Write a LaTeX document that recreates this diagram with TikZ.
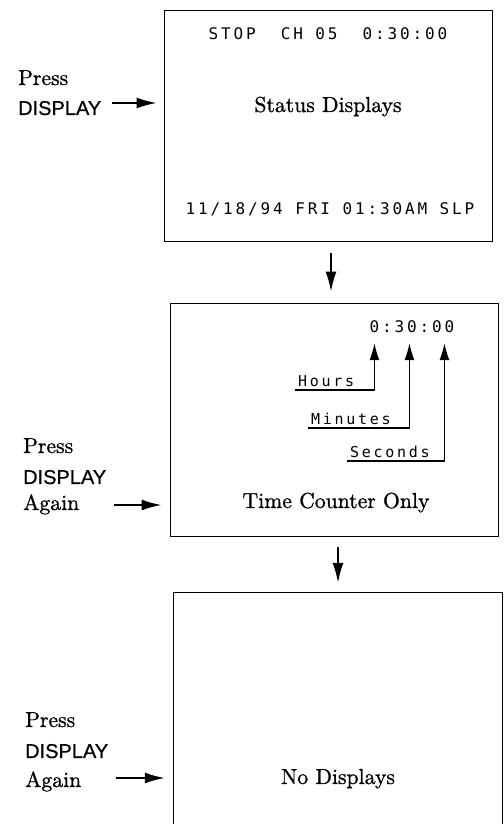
\documentclass[tikz,border=0pt]{standalone}
\usepackage{fontspec}
\setmainfont{lmroman10-regular.otf}[FakeBold=1]
\newfontfamily\lcdfont[LetterSpace=18]{DejaVu Sans Mono}
\newfontfamily\keyfont[FakeBold=0.6]{Liberation Sans}
\usetikzlibrary{arrows.meta}
\begin{document}
\begin{tikzpicture}[x=1pt,y=1pt,
  screen/.style={draw,line width=0.9pt,minimum width=328pt,inner sep=0pt},
  lcd/.style={font=\lcdfont\fontsize{16}{18}\selectfont,anchor=base,inner sep=0pt,text depth=0pt},
  caption/.style={font=\fontsize{21.7}{26}\selectfont,anchor=base,inner sep=0pt},
  press/.style={font=\fontsize{21.7}{26}\selectfont,anchor=base west,inner sep=0pt},
  key/.style={font=\keyfont\fontsize{20}{24}\selectfont,anchor=base west,inner sep=0pt},
  push/.style={line width=1.8pt,-{Latex[length=20pt,width=11pt]}},
  tag/.style={font=\lcdfont\fontsize{15}{16}\selectfont,anchor=south west,inner sep=3pt,text depth=0pt},
  pointer/.style={line width=1.3pt,-{Latex[length=17pt,width=10pt]}}]
 \useasboundingbox (0,0) rectangle (503,824);
 \node[screen,minimum height=231pt] (status) at (328,698.5) {};
 \node[screen,minimum height=233pt] (counter) at (334,404.5) {};
 \node[minimum width=328pt,minimum height=240pt,inner sep=0pt] (blank) at (338,111) {};
 \draw[line width=0.9pt] (blank.south west) -- (blank.north west) -- (blank.north east) -- (blank.south east);
 \node[lcd] (topline) at (328,784) {STOP\ \ CH 05\ \ 0:30:00};
 \node[caption] (statuscap) at (328,712) {Status Displays};
 \node[lcd] (bottomline) at (330,609) {11/18/94 FRI 01:30AM SLP};
 \node[lcd] (clock) at (412,491) {0:30:00};
 \node[tag] (hours) at (295,434) {Hours};
 \node[tag] (minutes) at (308,396) {Minutes};
 \node[tag] (seconds) at (347,363) {Seconds};
 \draw[pointer] (hours.south west) -| ([shift={(5,-10)}]clock.south west);
 \draw[pointer] (minutes.south west) -| ([shift={(40,-10)}]clock.south west);
 \draw[pointer] (seconds.south west) -| ([shift={(75,-10)}]clock.south west);
 \node[caption] (countercap) at (336,316) {Time Counter Only};
 \node[caption] (blankcap) at (338,40) {No Displays};
 \node[press] (press1) at (18,739) {Press};
 \node[key] (key1) at (18,709) {DISPLAY};
 \node[press] (press2) at (23,371) {Press};
 \node[key] (key2) at (23,340) {DISPLAY};
 \node[press] (again2) at (23,314) {Again};
 \node[press] (press3) at (25,97) {Press};
 \node[key] (key3) at (25,66) {DISPLAY};
 \node[press] (again3) at (25,37) {Again};
 \coordinate (from1) at (112,721);
 \coordinate (from2) at (114,319);
 \coordinate (from3) at (116,46);
 \coordinate (down1) at (331,571);
 \coordinate (down2) at (338,277);
 \draw[push,shorten >=7pt] (from1) -- (from1 -| status.west);
 \draw[push,shorten >=8pt] (from2) -- (from2 -| counter.west);
 \draw[push,shorten >=9pt] (from3) -- (from3 -| blank.west);
 \draw[push,shorten >=11pt] (down1) -- (down1 |- counter.north);
 \draw[push,shorten >=10pt] (down2) -- (down2 |- blank.north);
\end{tikzpicture}
\end{document}
